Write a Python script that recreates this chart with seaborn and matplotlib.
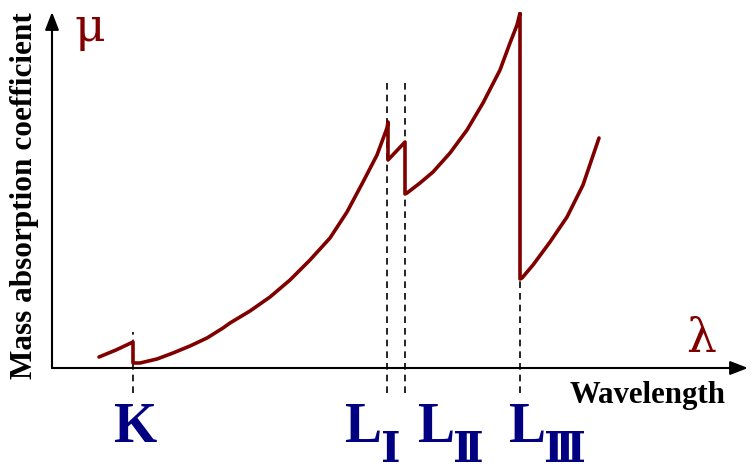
import matplotlib
matplotlib.use("Agg")
import matplotlib.pyplot as plt
import seaborn as sns
import pandas as pd

# ---- data (arbitrary units) ----
wavelength = [4.7, 6.4, 8.1,
              8.1, 8.8, 10.5, 12.1, 13.8, 15.5, 17.1, 17.8, 19.8, 21.8, 23.8, 25.8,
              27.8, 29.5, 31.1, 32.5, 33.5, 33.6,
              33.6, 35.3,
              35.3, 35.5, 36.8, 38.1, 39.8, 41.5, 43.1, 44.8, 45.8, 46.5, 46.8,
              46.8, 47.0, 48.1, 49.8, 51.5, 53.1, 54.7]
mu = [1.1, 1.8, 2.6,
      0.5, 0.5, 0.9, 1.5, 2.2, 3.0, 4.0, 4.5, 5.7, 7.1, 8.8, 10.8,
      13.0, 15.6, 18.6, 21.3, 24.0, 24.6,
      20.8, 22.6,
      17.4, 17.5, 18.5, 19.6, 21.5, 23.8, 26.5, 29.8, 32.5, 34.3, 35.5,
      8.9, 9.0, 10.3, 12.6, 15.1, 18.3, 23.0]
edge_names = ["K", "L", "L", "L"]
edge_subs = ["", "Ⅰ", "Ⅱ", "Ⅲ"]
edge_positions = [8.1, 33.5, 35.3, 46.8]

df = pd.DataFrame({"wavelength": wavelength, "mu": mu})

sns.set_theme(style="white")
plt.rcParams["font.family"] = ["Liberation Serif", "DejaVu Serif"]

W, H = 751, 471
fig = plt.figure(figsize=(W / 100, H / 100), dpi=100)
x0, x1, y0, y1 = 52, 748, 368, 12
ax = fig.add_axes([x0 / W, 1 - y0 / H, (x1 - x0) / W, (y0 - y1) / H])
ax.set_xlim(0, (x1 - x0) / 10)
ax.set_ylim(0, (y0 - y1) / 10)
ax.axis("off")

red = "#800000"
navy = "#000080"

# dashed edge markers
tops = [3.6, 29.0, 29.0, 29.0]
for xe, top in zip(edge_positions, tops):
    ax.plot([xe, xe], [-2.5, top], color="black", lw=1.2, ls=(0, (4, 3)),
            clip_on=False, zorder=1)

sns.lineplot(data=df, x="wavelength", y="mu", sort=False, estimator=None,
             color=red, lw=2.6, ax=ax, zorder=3)
ax.set_xlabel("")
ax.set_ylabel("")

# axes arrows
arrow = dict(arrowstyle="-|>,head_length=0.9,head_width=0.35", color="black", lw=1.5,
             shrinkA=0, shrinkB=0)
ax.annotate("", xy=(0, 1), xytext=(0, 0), xycoords="axes fraction",
            textcoords="axes fraction", arrowprops=arrow)
ax.annotate("", xy=(1, 0), xytext=(0, 0), xycoords="axes fraction",
            textcoords="axes fraction", arrowprops=arrow)

# edge labels (main letter + subscript roman numeral)
main_dx = [0.3, -2.4, 3.1, 0.7]
sub_dx = [0.0, 0.4, 6.3, 4.5]
for name, sub, xe, mdx, sdx in zip(edge_names, edge_subs, edge_positions, main_dx, sub_dx):
    ax.text(xe + mdx, -6.0, name, color=navy, fontsize=40, fontweight="bold",
            ha="center", va="center", clip_on=False)
    if sub:
        ax.text(xe + sdx, -8.4, sub, color=navy, fontsize=30, fontweight="bold",
                ha="center", va="center", clip_on=False,
                family=["Liberation Serif", "DejaVu Serif"])

fig.text(25 / W, 1 - 196 / H, "Mass absorption coefficient", rotation=90,
         fontsize=22.5, fontweight="bold", ha="center", va="center", color="black")
fig.text(648 / W, 1 - 395 / H, "Wavelength", fontsize=22.2, fontweight="bold",
         ha="center", va="center", color="black")
fig.text(90 / W, 1 - 28 / H, "μ", fontsize=34, color=red, ha="center", va="center",
         family="DejaVu Serif")
fig.text(701 / W, 1 - 339 / H, "λ", fontsize=34, color=red, ha="center", va="center",
         family="DejaVu Serif")

fig.savefig("out.png", dpi=100)
